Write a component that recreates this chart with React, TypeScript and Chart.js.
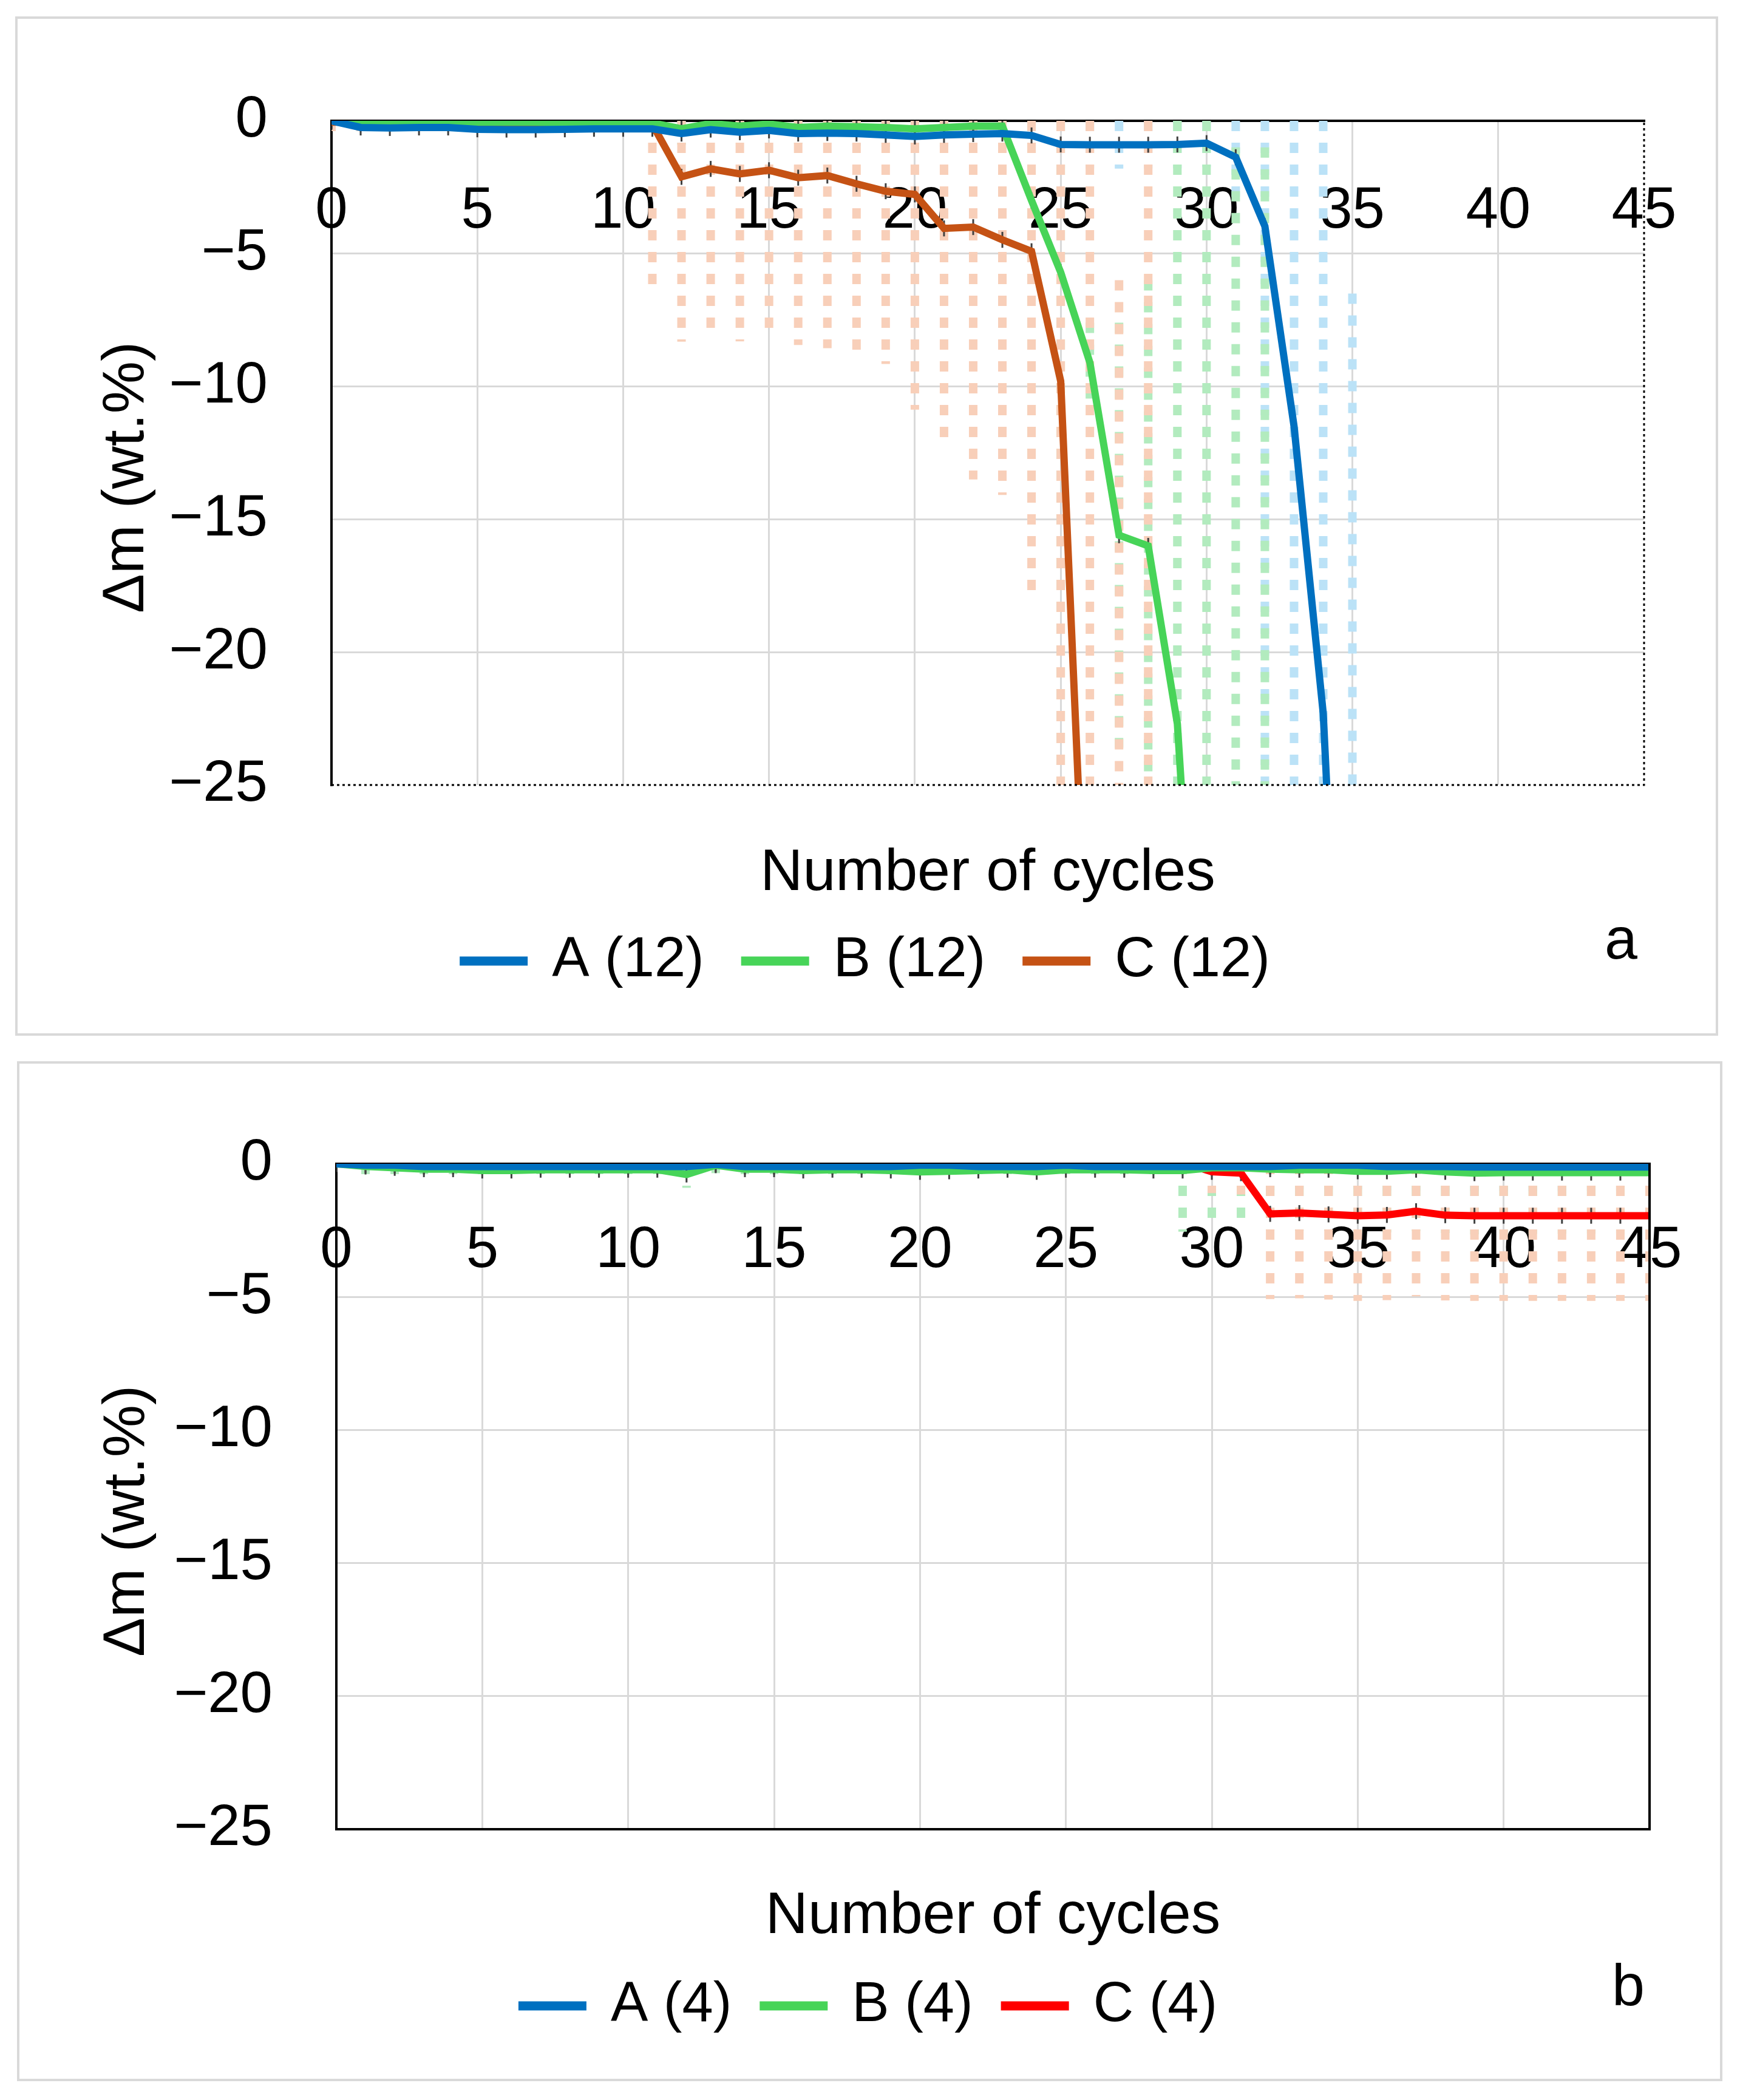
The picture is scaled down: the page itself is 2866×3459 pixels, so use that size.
import { useEffect, useRef } from "react"
import { Chart, registerables } from "chart.js"

Chart.register(...registerables)

Chart.defaults.font.family = "'Liberation Sans', Arial, sans-serif"
Chart.defaults.color = "#000"

// Number of cycles (x) and the tick values of both axes
const cycles = [
  0, 1, 2, 3, 4, 5, 6, 7, 8, 9, 10, 11, 12, 13, 14, 15, 16, 17, 18, 19, 20, 21, 22,
  23, 24, 25, 26, 27, 28, 29, 30, 31, 32, 33, 34, 35, 36, 37, 38, 39, 40, 41, 42, 43,
  44, 45,
]
const cycleTicks = [0, 5, 10, 15, 20, 25, 30, 35, 40, 45]
const massTicks = [0, -5, -10, -15, -20, -25]

// Panel a: mass change (wt.%) and error bars (+/-)
const massA12 = [
  0, -0.25, -0.27, -0.25, -0.25, -0.32, -0.33, -0.33, -0.32, -0.3, -0.3, -0.3, -0.48, -0.33,
  -0.43, -0.36, -0.48, -0.46, -0.48, -0.53, -0.59, -0.53, -0.5, -0.48, -0.55, -0.89, -0.9,
  -0.9, -0.9, -0.89, -0.84, -1.37, -3.97, -11.5, -22.3, -45,
]
const errA12 = [
  0, 0.3, 0.3, 0.3, 0.3, 0.35, 0.35, 0.35, 0.35, 0.3, 0.3, 0.3, 0.4, 0.4, 0.4, 0.4, 0.4,
  0.4, 0.45, 0.45, 0.45, 0.45, 0.45, 0.45, 0.6, 0.9, 0.9, 0.9, 0.9, 0.9, 0.9, 1.6, 22, 14,
  23, 38.5,
]
const massB12 = [
  0, -0.05, -0.05, -0.05, -0.05, -0.05, -0.05, -0.05, -0.08, -0.08, -0.08, -0.08, -0.3, -0.1,
  -0.2, -0.12, -0.25, -0.2, -0.22, -0.25, -0.3, -0.25, -0.2, -0.2, -3.0, -5.7, -9.1, -15.6,
  -16.0, -22.7, -40, -45, -50,
]
const errB12 = [
  0, 0.3, 0.3, 0.3, 0.3, 0.3, 0.3, 0.3, 0.4, 0.4, 0.4, 0.4, 0.6, 0.5, 0.5, 0.5, 0.6, 0.6,
  0.6, 0.6, 0.6, 0.6, 0.7, 7.7, 11.5, 20, 1.5, 8, 10, 23, 40, 44, 49,
]
const massC12 = [
  -0.05, -0.05, -0.05, -0.05, -0.05, -0.1, -0.1, -0.1, -0.2, -0.2, -0.15, -0.13, -2.11,
  -1.81, -2.0, -1.86, -2.14, -2.06, -2.37, -2.65, -2.77, -4.05, -4.0, -4.48, -4.91, -9.8,
  -35, -50, -55,
]
const errC12 = [
  0.5, 0.7, 0.7, 0.7, 0.7, 0.7, 0.7, 0.7, 0.6, 0.6, 0.6, 6.4, 6.2, 6.15, 6.3, 6.2, 6.3,
  6.5, 6.56, 6.5, 8.1, 8.1, 9.5, 9.6, 12.8, 16, 35, 44, 55,
]

// Panel b
const massA4 = [
  0, -0.05, -0.05, -0.1, -0.1, -0.1, -0.1, -0.1, -0.1, -0.1, -0.1, -0.1, -0.1, -0.02, -0.1,
  -0.1, -0.1, -0.1, -0.1, -0.1, -0.05, -0.05, -0.1, -0.1, -0.1, -0.05, -0.1, -0.1, -0.1,
  -0.1, -0.1, -0.1, -0.1, -0.05, -0.05, -0.05, -0.1, -0.1, -0.1, -0.12, -0.12, -0.12, -0.12,
  -0.12, -0.12, -0.12,
]
const errA4 = [
  0, 0.2, 0.2, 0.2, 0.2, 0.2, 0.2, 0.2, 0.2, 0.2, 0.2, 0.2, 0.2, 0.2, 0.2, 0.2, 0.2, 0.2,
  0.2, 0.2, 0.2, 0.2, 0.2, 0.2, 0.2, 0.2, 0.2, 0.2, 0.2, 0.2, 0.5, 0.8, 0.9, 0.9, 0.9, 0.9,
  0.9, 0.9, 0.9, 0.9, 0.9, 0.9, 0.9, 0.9, 0.9, 0.9,
]
const massB4 = [
  0, -0.1, -0.15, -0.2, -0.2, -0.25, -0.25, -0.22, -0.22, -0.22, -0.22, -0.22, -0.4, -0.05,
  -0.2, -0.2, -0.25, -0.22, -0.22, -0.25, -0.3, -0.28, -0.25, -0.22, -0.3, -0.22, -0.22,
  -0.22, -0.25, -0.25, -0.15, -0.15, -0.2, -0.22, -0.22, -0.28, -0.28, -0.22, -0.3, -0.35,
  -0.33, -0.33, -0.33, -0.33, -0.33, -0.33,
]
const errB4 = [
  0, 0.3, 0.3, 0.3, 0.3, 0.3, 0.3, 0.3, 0.3, 0.3, 0.3, 0.3, 0.5, 0.3, 0.3, 0.3, 0.3, 0.3,
  0.3, 0.3, 0.3, 0.3, 0.3, 0.3, 0.3, 0.3, 0.3, 0.3, 0.3, 2.3, 2.1, 2.0, 2.3, 2.3, 2.3, 2.3,
  2.3, 2.3, 2.3, 2.3, 2.3, 2.3, 2.3, 2.3, 2.3, 2.3,
]
const massC4 = [
  0, 0.2, 0.2, 0.2, 0.2, 0.2, 0.2, 0.2, 0.2, 0.2, 0.2, 0.2, 0.2, 0.2, 0.2, 0.2, 0.2, 0.2,
  0.2, 0.2, 0.2, 0.2, 0.2, 0.2, 0.2, 0.2, 0.2, 0.2, 0.2, 0.05, -0.3, -0.35, -1.88, -1.85,
  -1.9, -1.95, -1.92, -1.78, -1.93, -1.95, -1.95, -1.95, -1.95, -1.95, -1.95, -1.95,
]
const errC4 = [
  0, 0.4, 0.4, 0.4, 0.4, 0.4, 0.4, 0.4, 0.4, 0.4, 0.4, 0.4, 0.4, 0.4, 0.4, 0.4, 0.4, 0.4,
  0.4, 0.4, 0.4, 0.4, 0.4, 0.4, 0.4, 0.4, 0.4, 0.4, 0.4, 0.4, 0.8, 0.8, 3.2, 3.2, 3.2, 3.2,
  3.2, 3.2, 3.2, 3.2, 3.2, 3.2, 3.2, 3.2, 3.2, 3.2,
]

// half length of the small dark marks at each point
const markErr = 0.3

interface Series {
  label: string
  values: number[]
  errors: number[]
  color: string
  errorColor: string
}

const seriesA: Series[] = [
  { label: "A (12)", values: massA12, errors: errA12, color: "#0070C0", errorColor: "#BBE2F7" },
  { label: "B (12)", values: massB12, errors: errB12, color: "#47D458", errorColor: "#B2EBBE" },
  { label: "C (12)", values: massC12, errors: errC12, color: "#C55214", errorColor: "#F8CFB9" },
]
const seriesB: Series[] = [
  { label: "A (4)", values: massA4, errors: errA4, color: "#0070C0", errorColor: "#BBE2F7" },
  { label: "B (4)", values: massB4, errors: errB4, color: "#47D458", errorColor: "#B2EBBE" },
  { label: "C (4)", values: massC4, errors: errC4, color: "#FF0000", errorColor: "#F8CFB9" },
]

const errorBars = {
  id: "errorBars",
  beforeDatasetsDraw(chart: any) {
    const { ctx, chartArea: area, scales } = chart
    const xs = scales.x
    const ys = scales.y
    ctx.save()
    ctx.beginPath()
    ctx.rect(area.left, area.top, area.right - area.left, area.bottom - area.top)
    ctx.clip()
    ctx.lineCap = "butt"
    chart.data.datasets.forEach((ds: any) => {
      ctx.strokeStyle = ds.errorColor
      ctx.lineWidth = 14
      ctx.setLineDash([17, 19])
      ds.data.forEach((p: any, i: number) => {
        const e = ds.errors[i]
        if (!e) return
        const x = xs.getPixelForValue(p.x)
        const top = Math.max(ys.getPixelForValue(p.y + e), area.top)
        const bot = Math.min(ys.getPixelForValue(p.y - e), area.bottom)
        if (bot <= top) return
        ctx.beginPath()
        ctx.moveTo(x, top)
        ctx.lineTo(x, bot)
        ctx.stroke()
      })
    })
    ctx.setLineDash([])
    ctx.strokeStyle = "#404040"
    ctx.lineWidth = 3
    chart.data.datasets.forEach((ds: any) => {
      ds.data.forEach((p: any) => {
        const x = xs.getPixelForValue(p.x)
        ctx.beginPath()
        ctx.moveTo(x, ys.getPixelForValue(p.y + markErr))
        ctx.lineTo(x, ys.getPixelForValue(p.y - markErr))
        ctx.stroke()
      })
    })
    ctx.restore()
  },
}

const frame = {
  id: "frame",
  afterDatasetsDraw(chart: any, _args: any, opts: any) {
    const { ctx, chartArea: a } = chart
    ctx.save()
    ctx.strokeStyle = "#000"
    ctx.lineWidth = opts.width
    ctx.setLineDash(opts.dash)
    ctx.beginPath()
    ctx.moveTo(a.left, a.bottom)
    ctx.lineTo(a.right, a.bottom)
    ctx.lineTo(a.right, a.top)
    ctx.stroke()
    ctx.restore()
  },
}

interface PanelProps {
  series: Series[]
  box: { left: number; top: number; width: number; height: number }
  pad: { top: number; side: number; bottom: number }
  yAxisWidth: number
  yTitleGap: number
  xTitleHeight: number
  xTitleShift: number
  xTickGap: number
  legendGap: number
  boxWidth: number
  frameDash: number[]
  frameWidth: number
  letter: string
  letterPos: { left: number; top: number }
}

function Panel(p: PanelProps) {
  const chartRef = useRef<HTMLCanvasElement>(null)
  const chartInstance = useRef<Chart | null>(null)

  useEffect(() => {
    if (!chartRef.current) return
    if (chartInstance.current) chartInstance.current.destroy()

    const gridColor = (edge: number) => (c: any) =>
      c.tick && c.tick.value === edge ? "rgba(0,0,0,0)" : "#D9D9D9"

    chartInstance.current = new Chart(chartRef.current, {
      type: "line",
      data: {
        datasets: p.series.map((s) => ({
          label: s.label,
          data: s.values.map((v, i) => ({ x: cycles[i], y: v })),
          borderColor: s.color,
          backgroundColor: s.color,
          borderWidth: 12,
          pointRadius: 0,
          tension: 0,
          errors: s.errors,
          errorColor: s.errorColor,
        })) as any,
      },
      plugins: [errorBars, frame],
      options: {
        animation: false,
        responsive: true,
        maintainAspectRatio: false,
        layout: {
          padding: { top: p.pad.top, right: p.pad.side, bottom: p.pad.bottom, left: p.pad.side },
        },
        scales: {
          x: {
            type: "linear",
            min: 0,
            max: 45,
            position: { y: 0 } as any,
            afterBuildTicks: (s: any) => {
              s.ticks = cycleTicks.map((v) => ({ value: v }))
            },
            ticks: {
              font: { size: 96 },
              padding: 0,
              maxRotation: 0,
              autoSkip: false,
            },
            grid: {
              color: gridColor(45),
              lineWidth: 3,
              drawTicks: true,
              tickLength: p.xTickGap,
              tickColor: "rgba(0,0,0,0)",
            },
            border: { color: "#000", width: 4 },
          },
          x2: {
            type: "linear",
            position: "bottom",
            afterFit: (s: any) => {
              s.height = p.xTitleHeight
            },
            ticks: { display: false },
            grid: { display: false },
            border: { display: false },
            title: {
              display: true,
              text: "Number of cycles",
              font: { size: 97 },
              padding: { top: 0, bottom: p.xTitleShift },
            },
          },
          y: {
            type: "linear",
            min: -25,
            max: 0,
            afterBuildTicks: (s: any) => {
              s.ticks = massTicks.map((v) => ({ value: v }))
            },
            afterFit: (s: any) => {
              s.width = p.yAxisWidth
            },
            ticks: {
              font: { size: 96 },
              padding: 105,
              callback: (v: any) => (v < 0 ? "\u2212" + Math.abs(v) : String(v)),
            },
            grid: { color: gridColor(-25), lineWidth: 3, drawTicks: false },
            border: { color: "#000", width: 4 },
            title: {
              display: true,
              text: "\u0394m (wt.%)\u00a0\u00a0\u00a0",
              font: { size: 97 },
              padding: { top: p.yTitleGap, bottom: 0 },
            },
          },
        },
        plugins: {
          legend: {
            position: "bottom",
            labels: {
              font: { size: 92 },
              boxWidth: p.boxWidth,
              boxHeight: 3,
              padding: p.legendGap,
            },
          },
          tooltip: { enabled: false },
          frame: { dash: p.frameDash, width: p.frameWidth },
        } as any,
      },
    })

    return () => {
      if (chartInstance.current) {
        chartInstance.current.destroy()
        chartInstance.current = null
      }
    }
  }, [p])

  return (
    <>
      <div
        style={{
          position: "absolute",
          left: p.box.left,
          top: p.box.top,
          width: p.box.width,
          height: p.box.height,
          border: "4px solid #D9D9D9",
          boxSizing: "border-box",
        }}
      />
      <div
        style={{
          position: "absolute",
          left: p.box.left,
          top: p.box.top,
          width: p.box.width,
          height: p.box.height,
        }}
      >
        <canvas ref={chartRef} />
      </div>
      <div
        style={{
          position: "absolute",
          left: p.letterPos.left,
          top: p.letterPos.top,
          font: "97px 'Liberation Sans', Arial, sans-serif",
          lineHeight: "97px",
          color: "#000",
        }}
      >
        {p.letter}
      </div>
    </>
  )
}

const panelA: PanelProps = {
  series: seriesA,
  box: { left: 25, top: 27, width: 2805, height: 1679 },
  pad: { top: 172, side: 122, bottom: 67 },
  yAxisWidth: 399,
  yTitleGap: 4,
  xTitleHeight: 177,
  xTitleShift: -27,
  xTickGap: 92,
  legendGap: 67,
  boxWidth: 100,
  frameDash: [4, 5],
  frameWidth: 3,
  letter: "a",
  letterPos: { left: 2643, top: 1497 },
}

const panelB: PanelProps = {
  series: seriesB,
  box: { left: 28, top: 1748, width: 2809, height: 1680 },
  pad: { top: 169, side: 120, bottom: 68 },
  yAxisWidth: 406,
  yTitleGap: 4,
  xTitleHeight: 193,
  xTitleShift: -9,
  xTickGap: 86,
  legendGap: 52,
  boxWidth: 100,
  frameDash: [],
  frameWidth: 4,
  letter: "b",
  letterPos: { left: 2655, top: 3221 },
}

export default function App() {
  return (
    <div
      style={{
        position: "absolute",
        left: 0,
        top: 0,
        width: 2866,
        height: 3459,
        background: "#fff",
      }}
    >
      <Panel {...panelA} />
      <Panel {...panelB} />
    </div>
  )
}
